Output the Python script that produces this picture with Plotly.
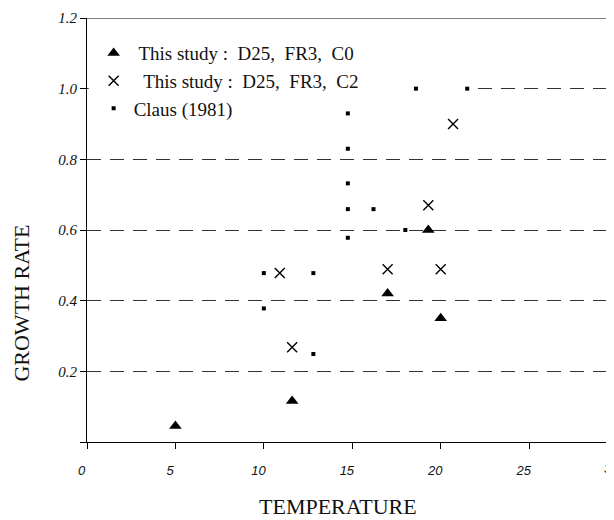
import plotly.graph_objects as go

# Data
c0_temp = [5.0, 11.6, 17.0, 19.3, 20.0]
c0_rate = [0.045, 0.116, 0.42, 0.60, 0.35]

c2_temp = [10.9, 11.6, 17.0, 19.3, 20.0, 20.7]
c2_rate = [0.478, 0.268, 0.489, 0.67, 0.489, 0.90]

claus_temp = [10.0, 10.0, 12.8, 12.8, 14.75, 14.75, 14.75, 14.75, 14.75, 16.2, 18.0, 18.6, 21.5]
claus_rate = [0.478, 0.378, 0.478, 0.249, 0.93, 0.83, 0.732, 0.659, 0.578, 0.659, 0.60, 1.0, 1.0]

x_ticks = [0, 5, 10, 15, 20, 25]
y_ticks = [0, 0.2, 0.4, 0.6, 0.8, 1.0, 1.2]
y_tick_labels = ["", "0.2", "0.4", "0.6", "0.8", "1.0", "1.2"]

NB = "\u00a0"
legend_names = [NB + "This study :" + NB * 2 + "D25," + NB * 2 + "FR3," + NB * 2 + "C0",
                NB * 2 + "This study :" + NB * 2 + "D25," + NB * 2 + "FR3," + NB * 2 + "C2",
                "Claus (1981)"]

serif = "Liberation Serif"
ink = "#111"
tick_font = dict(family="Liberation Sans", size=13, style="italic", color=ink)

fig = go.Figure()
fig.add_trace(go.Scatter(x=c0_temp, y=c0_rate, mode="markers", name=legend_names[0],
                         marker=dict(symbol="triangle-up", size=11, color="black")))
fig.add_trace(go.Scatter(x=c2_temp, y=c2_rate, mode="markers", name=legend_names[1],
                         marker=dict(symbol="x-thin-open", size=10, color="black",
                                     line=dict(width=1.4, color="black"))))
fig.add_trace(go.Scatter(x=claus_temp, y=claus_rate, mode="markers", name=legend_names[2],
                         marker=dict(symbol="square", size=4, color="black")))

# The page has an 8px body margin, so the figure is sized to fit what remains visible.
fig.update_layout(
    width=606, height=512,
    margin=dict(l=78.5, r=0, t=10, b=78),
    paper_bgcolor="white", plot_bgcolor="white",
    showlegend=True,
    legend=dict(x=0.0126, y=0.962, xanchor="left", yanchor="top",
                font=dict(family=serif, size=19, color=ink),
                bgcolor="rgba(0,0,0,0)", tracegroupgap=0, itemwidth=30),
    xaxis=dict(range=[0, 29.8], tickvals=x_ticks,
               ticktext=[str(v) + NB * 3 for v in x_ticks],
               showgrid=False, zeroline=False, automargin=False,
               showline=True, linecolor="black", linewidth=1.2,
               ticks="outside", ticklen=6, tickcolor="black", ticklabelstandoff=10,
               tickfont=tick_font),
    yaxis=dict(range=[0, 1.2], tickvals=y_ticks, ticktext=y_tick_labels,
               showgrid=True, gridcolor="#333", gridwidth=1, griddash="14px,9px",
               zeroline=False, automargin=False,
               showline=True, linecolor="black", linewidth=1.2,
               ticks="outside", ticklen=6, tickcolor="black",
               tickfont=dict(family=serif, size=15, style="italic", color=ink)),
    annotations=[
        dict(text="TEMPERATURE", xref="paper", yref="paper", x=0.476, y=-0.153,
             xanchor="center", yanchor="middle", showarrow=False,
             font=dict(family=serif, size=22, color=ink)),
        dict(text="GROWTH RATE", xref="paper", yref="paper", x=-0.124, y=0.328,
             xanchor="center", yanchor="middle", showarrow=False, textangle=-90,
             font=dict(family=serif, size=22, color=ink)),
        dict(text="30", xref="paper", yref="paper", x=0.995, y=0, yshift=-26,
             xanchor="center", yanchor="middle", showarrow=False, font=tick_font),
    ],
    shapes=[
        # top frame line at 1.2
        dict(type="line", xref="paper", yref="y", x0=0, x1=1, y0=1.2, y1=1.2,
             line=dict(color="black", width=1)),
        # the 1.0 dashed line is not printed behind the legend in the original
        dict(type="rect", xref="x", yref="y", x0=0.1, x1=21.7, y0=0.985, y1=1.015,
             fillcolor="white", line=dict(width=0), layer="between"),
    ],
)

fig.write_html("out.html")
